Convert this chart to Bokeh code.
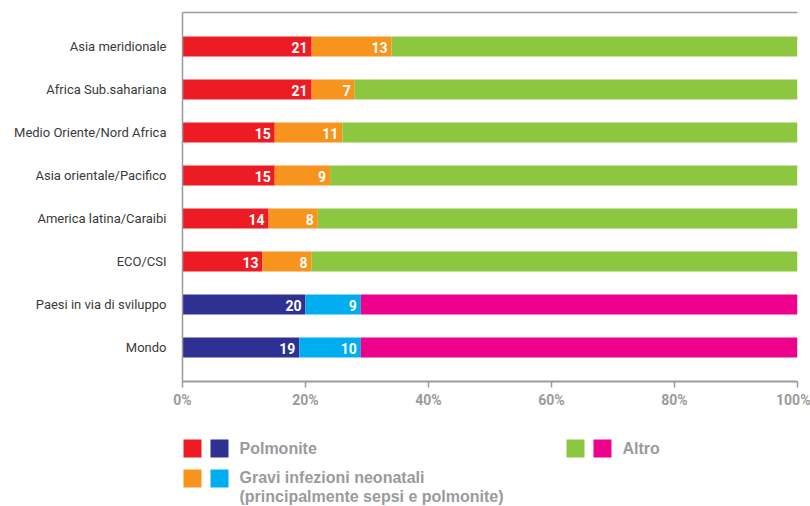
from bokeh.plotting import figure
from bokeh.models import ColumnDataSource, Range1d, LinearAxis, FixedTicker
from bokeh.layouts import column
from bokeh.core.properties import value
from bokeh.embed import file_html
from bokeh.resources import INLINE

# Causes of death among children under five (% of total), by region
categories = [
    "Asia meridionale",
    "Africa Sub.sahariana",
    "Medio Oriente/Nord Africa",
    "Asia orientale/Pacifico",
    "America latina/Caraibi",
    "ECO/CSI",
    "Paesi in via di sviluppo",
    "Mondo",
]
polmonite = [21, 21, 15, 15, 14, 13, 20, 19]
neonatali = [13, 7, 11, 9, 8, 8, 9, 10]
altro = [66, 72, 74, 76, 78, 79, 71, 71]
aggregate = [False, False, False, False, False, False, True, True]

x_ticks = [0, 20, 40, 60, 80, 100]
x_tick_labels = ["0%", "20%", "40%", "60%", "80%", "100%"]

legend_labels = ["Polmonite", "Altro",
                 "Gravi infezioni neonatali", "(principalmente sepsi e polmonite)"]

# regional palette / aggregate palette
RED, ORANGE, GREEN = "#ED1C24", "#F7941D", "#8DC63F"
NAVY, CYAN, MAGENTA = "#2E3192", "#00AEEF", "#EC008C"
GRAY = "#9a9a9e"
FONT = "Roboto"

n = len(categories)
ys = [n - 1 - i for i in range(n)]
pol_end = polmonite[:]
neo_end = [a + b for a, b in zip(polmonite, neonatali)]
alt_end = [a + b for a, b in zip(neo_end, altro)]

source = ColumnDataSource(dict(
    y=ys,
    zero=[0] * n,
    pol_end=pol_end,
    neo_end=neo_end,
    alt_end=alt_end,
    pol_lbl=[str(v) for v in polmonite],
    neo_lbl=[str(v) for v in neonatali],
    c_pol=[NAVY if a else RED for a in aggregate],
    c_neo=[CYAN if a else ORANGE for a in aggregate],
    c_alt=[MAGENTA if a else GREEN for a in aggregate],
))

LEFT, RIGHT = 182, 13

p = figure(
    width=810, height=412,
    x_range=Range1d(0, 100), y_range=Range1d(-0.79, n - 1 + 0.79),
    output_backend="svg", toolbar_location=None,
    min_border_left=LEFT, min_border_right=RIGHT,
    min_border_top=12, min_border_bottom=31,
)
p.outline_line_color = None
p.xgrid.visible = False
p.ygrid.visible = False

bar_h = 0.465
p.hbar(y="y", left="zero", right="pol_end", height=bar_h, fill_color="c_pol",
       line_color=None, source=source)
p.hbar(y="y", left="pol_end", right="neo_end", height=bar_h, fill_color="c_neo",
       line_color=None, source=source)
p.hbar(y="y", left="neo_end", right="alt_end", height=bar_h, fill_color="c_alt",
       line_color=None, source=source)

for end, lbl in (("pol_end", "pol_lbl"), ("neo_end", "neo_lbl")):
    p.text(x=end, y="y", text=lbl, x_offset=-4, y_offset=1, source=source,
           text_align="right", text_baseline="middle", text_color="white",
           text_font=value(FONT), text_font_style="bold", text_font_size="14px")

# bottom percentage axis
xa = p.xaxis[0]
xa.ticker = FixedTicker(ticks=x_ticks)
xa.major_label_overrides = dict(zip(x_ticks, x_tick_labels))
xa.axis_line_color = GRAY
xa.axis_line_width = 2
xa.major_tick_line_color = GRAY
xa.major_tick_line_width = 1.5
xa.major_tick_out = 6
xa.major_tick_in = 0
xa.minor_tick_line_color = None
xa.major_label_standoff = 4
xa.major_label_text_font = FONT
xa.major_label_text_font_style = "bold"
xa.major_label_text_font_size = "14px"
xa.major_label_text_color = GRAY

# category axis on the left
ya = p.yaxis[0]
ya.ticker = FixedTicker(ticks=ys)
ya.major_label_overrides = {y: c for y, c in zip(ys, categories)}
ya.axis_line_color = GRAY
ya.axis_line_width = 1.5
ya.major_tick_line_color = None
ya.minor_tick_line_color = None
ya.major_tick_out = 0
ya.major_tick_in = 0
ya.major_label_standoff = 16
ya.major_label_text_font = FONT
ya.major_label_text_font_size = "13px"
ya.major_label_text_color = "#3a3a3a"

# thin rule along the top of the plot area
top = LinearAxis(ticker=FixedTicker(ticks=[]), axis_line_color=GRAY,
                 axis_line_width=1.5, major_tick_line_color=None,
                 minor_tick_line_color=None, major_label_text_font_size="0px",
                 major_label_standoff=0)
p.add_layout(top, "above")

# legend panel with paired swatches (regional / aggregate colour);
# its frame lines up with the chart frame, so x runs in page pixels
lg = figure(
    width=810, height=94, x_range=Range1d(LEFT, 810 - RIGHT), y_range=Range1d(94, 0),
    output_backend="svg", toolbar_location=None,
    x_axis_location=None, y_axis_location=None,
    min_border_left=LEFT, min_border_right=RIGHT, min_border_top=0, min_border_bottom=0,
)
lg.outline_line_color = None
lg.xgrid.visible = False
lg.ygrid.visible = False

sw = ColumnDataSource(dict(
    x=[192, 219, 192, 219, 575, 602],
    y=[36, 36, 66, 66, 36, 36],
    c=[RED, NAVY, ORANGE, CYAN, GREEN, MAGENTA],
))
lg.rect(x="x", y="y", width=18, height=18, width_units="screen",
        height_units="screen", fill_color="c", line_color=None, source=sw)

lt = ColumnDataSource(dict(
    x=[239, 622, 239, 239],
    y=[36, 36, 65, 84],
    t=legend_labels,
))
lg.text(x="x", y="y", text="t", source=lt, text_align="left",
        text_baseline="middle", text_color=GRAY,
        text_font=value("Liberation Sans"), text_font_style="bold",
        text_font_size="16px")

layout = column(p, lg, spacing=0)
open("out.html", "w").write(file_html(layout, INLINE))
